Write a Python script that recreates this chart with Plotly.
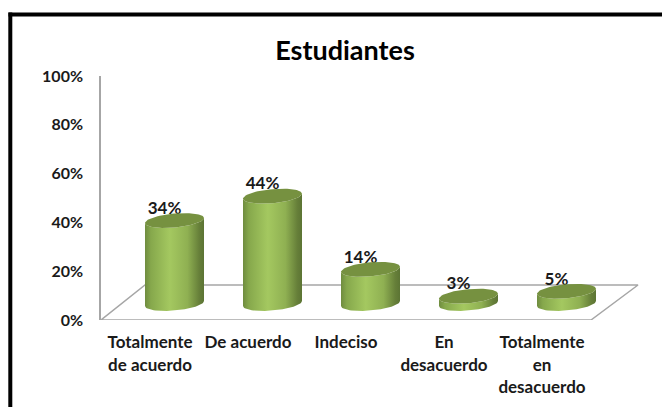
import numpy as np
import plotly.graph_objects as go

categories = ["Totalmente<br>de acuerdo", "De acuerdo", "Indeciso", "En<br>desacuerdo", "Totalmente<br>en<br>desacuerdo"]
values = [34, 44, 14, 3, 5]
value_labels = ["34%", "44%", "14%", "3%", "5%"]
y_ticks = [0, 20, 40, 60, 80, 100]
FONT = "Lato, Carlito, Calibri, sans-serif"

OFF = 8                             # page margin of the browser body
W, H = 670 - OFF, 407 - OFF
L, R, T, B = 101 - OFF, 640 - OFF, 76 - OFF, 320 - OFF
PXX = (R - L) / 5.5                 # px per category
PXY = (B - T) / 100                 # px per %
DX = 24.5 / PXX                     # depth shift of the bar centre
FLOOR = 16.5 / PXY                  # depth rise of the bar base
RX = 29.5 / PXX                     # ellipse radii
RY = 7.0 / PXY
TILT = -2.5 / PXY                   # ellipse tilt: right side sits higher

fig = go.Figure()

# floor
fx = [-0.5, 4.5, 4.5 + 47 / PXX, -0.5 + 44 / PXX, -0.5]
fy = [0, 0, 35 / PXY, 35 / PXY, 0]
fig.add_trace(go.Scatter(x=fx, y=fy, mode="lines", line=dict(color="#a6a6a6", width=1.5),
                         hoverinfo="skip", showlegend=False))

# value labels sit behind the cylinders, whose tops clip them slightly
fig.add_trace(go.Scatter(
    x=[i + DX - 10 / PXX for i in range(5)],
    y=[v + FLOOR + 2.5 / PXY for v in values],
    mode="text", text=["<b>%s</b>" % s for s in value_labels], textposition="top center",
    textfont=dict(family=FONT, size=17, color="#1a1a1a"),
    cliponaxis=False, hoverinfo="skip", showlegend=False))

t = np.linspace(0, 2 * np.pi, 73)
scale = [[0, "#6f8c3f"], [0.1, "#86a84c"], [0.42, "#a4c860"], [0.72, "#8fb052"], [0.92, "#667f39"], [1, "#5c7434"]]
for i, v in enumerate(values):
    cx = i + DX
    top = v + FLOOR
    a = np.linspace(0, np.pi, 37)       # right to left along the lower half
    ex = np.cos(a)
    ey = -np.sin(a)
    bx = cx + RX * ex
    by = FLOOR + RY * ey + TILT * -ex
    ux = cx + RX * ex[::-1]
    uy = top + RY * ey[::-1] + TILT * -ex[::-1]
    fig.add_trace(go.Scatter(
        x=np.r_[bx, ux], y=np.r_[by, uy], mode="lines", fill="toself",
        line=dict(width=0), fillcolor="#8fb050",
        fillgradient=dict(type="horizontal", colorscale=scale),
        hoverinfo="skip", showlegend=False))
    fig.add_trace(go.Scatter(
        x=cx + RX * np.cos(t), y=top + RY * np.sin(t) + TILT * -np.cos(t),
        mode="lines", fill="toself", line=dict(width=0), fillcolor="#769140",
        hoverinfo="skip", showlegend=False))

fig.update_layout(
    width=W, height=H, autosize=False, paper_bgcolor="white", plot_bgcolor="rgba(0,0,0,0)",
    margin=dict(l=L, r=W - R, t=T, b=H - B, autoexpand=False),
    showlegend=False,
    title=dict(text="<b>Estudiantes</b>", x=(345 - OFF) / W, xanchor="center", y=1 - (51 - OFF) / H, yanchor="middle",
               font=dict(family=FONT, size=27, color="black")),
    xaxis=dict(range=[-0.5, 5.0], tickmode="array", tickvals=list(range(5)), automargin=False,
               ticktext=["<b>%s</b>" % c for c in categories], showgrid=False, zeroline=False,
               showline=False, ticks="outside", ticklen=7, tickcolor="rgba(0,0,0,0)",
               tickangle=0, tickfont=dict(family=FONT, size=17, color="#1a1a1a")),
    yaxis=dict(range=[0, 100], tickvals=y_ticks, ticktext=["<b>%d%%</b>" % v for v in y_ticks], automargin=False,
               showgrid=False, zeroline=False, showline=True, linecolor="#a6a6a6", linewidth=1.5,
               ticks="outside", ticklen=13, tickcolor="rgba(0,0,0,0)",
               tickfont=dict(family=FONT, size=16, color="#1a1a1a")),
    shapes=[
        dict(type="line", xref="paper", yref="paper", layer="above",
             x0=(10.3 - OFF - L) / (R - L), x1=(10.3 - OFF - L) / (R - L),
             y0=(B - H) / (B - T), y1=(B - 12.5 + OFF) / (B - T),
             line=dict(color="black", width=4)),
        dict(type="line", xref="paper", yref="paper", layer="above",
             x0=(8.5 - OFF - L) / (R - L), x1=(W - L) / (R - L),
             y0=(B - 14.5 + OFF) / (B - T), y1=(B - 14.5 + OFF) / (B - T),
             line=dict(color="black", width=4)),
    ],
)
fig.write_html("out.html")
